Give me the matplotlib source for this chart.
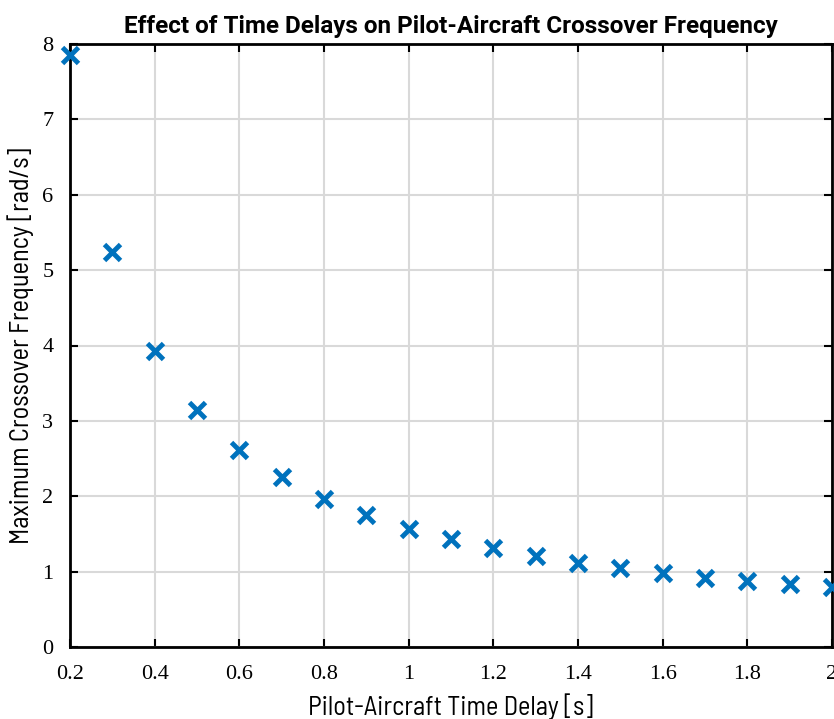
import numpy as np
import matplotlib.pyplot as plt

delay = [0.2, 0.3, 0.4, 0.5, 0.6, 0.7, 0.8, 0.9, 1.0, 1.1,
         1.2, 1.3, 1.4, 1.5, 1.6, 1.7, 1.8, 1.9, 2.0]
wc_max = [7.85, 5.24, 3.93, 3.14, 2.62, 2.25, 1.97, 1.75, 1.57, 1.43,
          1.31, 1.21, 1.12, 1.05, 0.98, 0.92, 0.87, 0.83, 0.79]
xticks = [0.2, 0.4, 0.6, 0.8, 1, 1.2, 1.4, 1.6, 1.8, 2]
xticklabels = ['0.2', '0.4', '0.6', '0.8', '1', '1.2', '1.4', '1.6', '1.8', '2']
yticks = [0, 1, 2, 3, 4, 5, 6, 7, 8]

sans = ['Barlow Semi Condensed', 'Asap Condensed', 'DejaVu Sans']
title_font = ['Roboto', 'DejaVu Sans']
serif = ['Liberation Serif', 'DejaVu Serif']

fig = plt.figure(figsize=(8.34, 7.19), dpi=100)
ax = fig.add_axes([70/834, 72/719, 762/834, 603/719])

ax.plot(delay, wc_max, linestyle='none', marker='x', color='#0072BD',
        markersize=11, markeredgewidth=3.5, clip_on=False, zorder=3)

ax.set_xlim(0.2, 2)
ax.set_ylim(0, 8)
ax.set_xticks(xticks)
ax.set_xticklabels(xticklabels)
ax.set_yticks(yticks)
ax.grid(True, color='#d9d9d9', linewidth=1.5)
ax.set_axisbelow(True)
ax.tick_params(direction='in', length=6, width=1.5, top=True, right=True,
               labelsize=16)
ax.tick_params(axis='x', pad=13)
ax.tick_params(axis='y', pad=12)
for lab in ax.get_xticklabels() + ax.get_yticklabels():
    lab.set_family(serif)
for s in ax.spines.values():
    s.set_linewidth(2)

ax.set_xlabel('Pilot-Aircraft Time Delay [s]', fontsize=19, family=sans, labelpad=7)
ax.set_ylabel('Maximum Crossover Frequency [rad/s]', fontsize=19, family=sans, labelpad=6)
ax.set_title('Effect of Time Delays on Pilot-Aircraft Crossover Frequency',
             fontsize=17.5, fontweight='bold', family=title_font, pad=8)

fig.savefig('out.png', dpi=100)
